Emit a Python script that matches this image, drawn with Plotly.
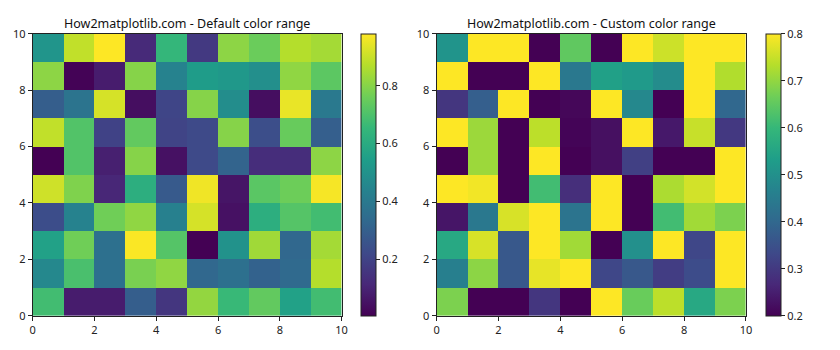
import plotly.graph_objects as go

# rows from bottom (y=0..1) to top (y=9..10), columns x=0..9
row0 = [0.68, 0.08, 0.08, 0.295, 0.16, 0.82, 0.66, 0.74, 0.56, 0.68]
row1 = [0.46, 0.695, 0.365, 0.78, 0.815, 0.33, 0.365, 0.31, 0.34, 0.87]
row2 = [0.56, 0.765, 0.365, 0.975, 0.715, 0.005, 0.50, 0.84, 0.33, 0.845]
row3 = [0.235, 0.44, 0.765, 0.815, 0.43, 0.92, 0.05, 0.615, 0.715, 0.68]
row4 = [0.91, 0.79, 0.11, 0.615, 0.28, 0.96, 0.06, 0.725, 0.76, 0.97]
row5 = [0.006, 0.71, 0.09, 0.80, 0.05, 0.225, 0.315, 0.13, 0.13, 0.81]
row6 = [0.89, 0.71, 0.20, 0.74, 0.205, 0.225, 0.80, 0.24, 0.75, 0.30]
row7 = [0.295, 0.38, 0.92, 0.04, 0.21, 0.80, 0.48, 0.04, 0.95, 0.40]
row8 = [0.81, 0.01, 0.08, 0.80, 0.44, 0.54, 0.525, 0.49, 0.815, 0.73]
row9 = [0.51, 0.89, 0.98, 0.12, 0.65, 0.17, 0.81, 0.755, 0.87, 0.845]
values = [row0, row1, row2, row3, row4, row5, row6, row7, row8, row9]

edges = list(range(11))
axis_ticks = [0, 2, 4, 6, 8, 10]
left_cb_ticks = [0.2, 0.4, 0.6, 0.8]
right_cb_ticks = [0.2, 0.3, 0.4, 0.5, 0.6, 0.7, 0.8]
right_min, right_max = 0.2, 0.8

titles = ["How2matplotlib.com - Default color range",
          "How2matplotlib.com - Custom color range"]

W, H = 840, 350
y_bot = 1 - 321.5 / H
y_top = 1 - 27 / H
font = "Noto Sans"

fig = go.Figure()
cb_common = dict(
    thickness=15, len=y_top - y_bot, lenmode="fraction",
    y=y_bot, yanchor="bottom", xanchor="left", xpad=0, ypad=0,
    outlinewidth=1, outlinecolor="#222", ticks="outside", ticklen=4,
    tickcolor="#222", tickfont=dict(size=11, color="#222", family=font),
)
fig.add_trace(go.Heatmap(
    z=values, x=edges, y=edges, colorscale="Viridis",
    xaxis="x", yaxis="y",
    colorbar=dict(x=361.5 / W, tickvals=left_cb_ticks, tickformat=".1f", **cb_common),
))
fig.add_trace(go.Heatmap(
    z=values, x=edges, y=edges, colorscale="Viridis",
    zmin=right_min, zmax=right_max,
    xaxis="x2", yaxis="y2",
    colorbar=dict(x=771.7 / W, tickvals=right_cb_ticks, tickformat=".1f", **cb_common),
))

ax_common = dict(
    range=[0, 10], tickvals=axis_ticks, ticks="outside", ticklen=4,
    tickcolor="#222", showline=True, linecolor="#222", linewidth=1, mirror=True,
    showgrid=False, zeroline=False, tickfont=dict(size=11, color="#222", family=font),
)
fig.update_layout(
    width=W, height=H, margin=dict(l=0, r=0, t=0, b=0),
    paper_bgcolor="white", plot_bgcolor="white",
    xaxis=dict(domain=[30 / W, 342.3 / W], anchor="y", **ax_common),
    yaxis=dict(domain=[y_bot, y_top], anchor="x", **ax_common),
    xaxis2=dict(domain=[438.3 / W, 751 / W], anchor="y2", **ax_common),
    yaxis2=dict(domain=[y_bot, y_top], anchor="x2", **ax_common),
    font=dict(family=font, color="#222"),
    annotations=[
        dict(text=titles[0], x=(30 + 342.3) / 2 / W, y=1 - 16 / H, xref="paper", yref="paper",
             showarrow=False, font=dict(size=12.5, color="#111", family=font), xanchor="center", yanchor="middle"),
        dict(text=titles[1], x=(438.3 + 751) / 2 / W, y=1 - 16 / H, xref="paper", yref="paper",
             showarrow=False, font=dict(size=12.5, color="#111", family=font), xanchor="center", yanchor="middle"),
    ],
)
fig.write_html("out.html")
